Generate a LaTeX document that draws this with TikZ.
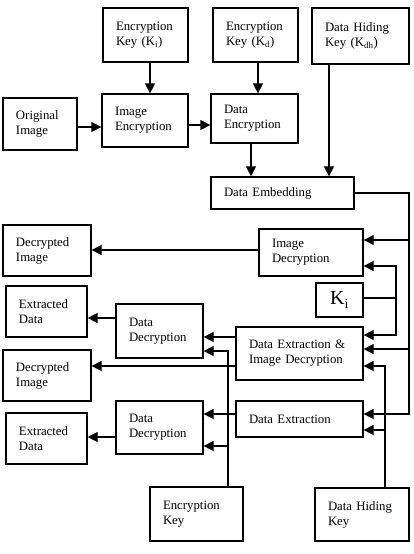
\documentclass[tikz,border=0pt]{standalone}
\usepackage{fontspec}
\setmainfont{Liberation Serif}
\usetikzlibrary{arrows.meta,positioning}
\tikzset{
  bx/.style={rectangle,draw=black,line width=1.2pt,align=left,font=\fontsize{12.8}{15}\selectfont,inner xsep=13pt,inner ysep=2pt},
  wire/.style={draw=black,line width=1.2pt},
  ctl/.style={draw=black,line width=1.2pt,-{Triangle[length=10pt,width=10pt]}},
}
\begin{document}
\begin{tikzpicture}[x=1pt,y=-1pt]
\useasboundingbox (0,0) rectangle (414,554);
% Embedding side: keys, encryption, embedding.
\node[bx,minimum width=85pt,minimum height=54pt,text width=59pt] (keyi) at (145.5,35) {Encryption\\Key (K\textsubscript{i})};
\node[bx,minimum width=85pt,minimum height=54pt,text width=59pt] (keyd) at (255.5,35) {Encryption\\Key (K\textsubscript{d})};
\node[bx,minimum width=97pt,minimum height=56pt,text width=71pt] (keydh) at (360.5,36) {Data Hiding\\Key (K\textsubscript{dh})};
\node[bx,minimum width=74pt,minimum height=52pt,text width=48pt] (orig) at (40,124) {Original\\Image};
\node[bx,minimum width=86pt,minimum height=53pt,text width=60pt] (imgenc) at (145,120.5) {Image\\Encryption};
\node[bx,minimum width=87pt,minimum height=49pt,text width=61pt] (dataenc) at (254.5,118.5) {Data\\Encryption};
\node[bx,minimum width=143pt,minimum height=32pt,text width=117pt] (embed) at (282.5,193) {Data Embedding};
% Receiver side.
\node[bx,minimum width=104pt,minimum height=47pt,text width=78pt] (imgdec) at (311,252.5) {Image\\Decryption};
\node[bx,minimum width=88pt,minimum height=51pt,text width=62pt] (decimga) at (47,250.5) {Decrypted\\Image};
\node[bx,align=center,inner xsep=2pt,minimum width=47pt,minimum height=34pt,font=\fontsize{20}{22}\selectfont] (kibox) at (339.5,300) {K\textsubscript{i}};
\node[bx,minimum width=81pt,minimum height=51pt,text width=55pt] (extra) at (46.5,311.5) {Extracted\\Data};
\node[bx,minimum width=87pt,minimum height=54pt,text width=61pt] (ddeca) at (159.5,331) {Data\\Decryption};
\node[bx,minimum width=127pt,minimum height=53pt,text width=101pt] (deid) at (299.5,353.5) {Data Extraction \&\\Image Decryption};
\node[bx,minimum width=88pt,minimum height=51pt,text width=62pt] (decimgb) at (47,375.5) {Decrypted\\Image};
\node[bx,minimum width=127pt,minimum height=36pt,text width=101pt] (dext) at (299.5,419) {Data Extraction};
\node[bx,minimum width=87pt,minimum height=53pt,text width=61pt] (ddecb) at (159.5,427.5) {Data\\Decryption};
\node[bx,minimum width=81pt,minimum height=51pt,text width=55pt] (extrb) at (46.5,438.5) {Extracted\\Data};
\node[bx,minimum width=93pt,minimum height=54pt,text width=67pt] (enckey) at (196.5,514) {Encryption\\Key};
\node[bx,minimum width=94pt,minimum height=53pt,text width=68pt] (dhkey) at (362,514.5) {Data Hiding\\Key};
% Encryption flow.
\draw[ctl] ([xshift=4.5pt]keyi.south) -- ([xshift=4.5pt]keyi.south |- imgenc.north);
\draw[ctl] ([xshift=2.5pt]keyd.south) -- ([xshift=2.5pt]keyd.south |- dataenc.north);
\draw[ctl] ([yshift=-3pt]orig.east) -- ([yshift=-3pt]orig.east -| imgenc.west);
\draw[ctl] ([yshift=-4.5pt]imgenc.east) -- ([yshift=-4.5pt]imgenc.east -| dataenc.west);
\draw[ctl] ([xshift=-3.5pt]dataenc.south) -- ([xshift=-3.5pt]dataenc.south |- embed.north);
\draw[ctl] ([xshift=-31.5pt]keydh.south) -- ([xshift=-31.5pt]keydh.south |- embed.north);
% Marked encrypted image fans out along the right edge.
\coordinate (rbus) at (409,194);
\draw[ctl] (embed.east) -| ([yshift=5pt]dext.east -| rbus) -- ([yshift=5pt]dext.east);
\draw[ctl] ([yshift=12.5pt]imgdec.east -| rbus) -- ([yshift=12.5pt]imgdec.east);
\draw[ctl] ([yshift=4.5pt]deid.east -| rbus) -- ([yshift=4.5pt]deid.east);
% Image key.
\coordinate (kbus) at (396,298);
\draw[wire] ([yshift=2pt]kibox.east) -- (kbus);
\draw[ctl] (kbus) |- ([yshift=-13.5pt]imgdec.east);
\draw[ctl] (kbus) |- ([yshift=18.5pt]deid.east);
% Data hiding key.
\coordinate (hbus) at ([xshift=23pt]dhkey.north);
\draw[ctl] (hbus) |- ([yshift=-12.5pt]deid.east);
\draw[ctl] ([yshift=-11pt]dext.east -| hbus) -- ([yshift=-11pt]dext.east);
% Encryption key.
\coordinate (ebus) at ([xshift=31.5pt]enckey.north);
\draw[ctl] (ebus) |- ([yshift=-20pt]ddeca.east);
\draw[ctl] ([yshift=-18.5pt]ddecb.east -| ebus) -- ([yshift=-18.5pt]ddecb.east);
% Outputs.
\draw[ctl] ([yshift=2.5pt]imgdec.west) -- ([yshift=2.5pt]imgdec.west -| decimga.east);
\draw[ctl] ([yshift=16.5pt]deid.west) -- ([yshift=16.5pt]deid.west -| ddeca.east);
\draw[ctl] ([yshift=-12.5pt]deid.west) -- ([yshift=-12.5pt]deid.west -| decimgb.east);
\draw[ctl] ([yshift=5pt]dext.west) -- ([yshift=5pt]dext.west -| ddecb.east);
\draw[ctl] ([yshift=13pt]ddeca.west) -- ([yshift=13pt]ddeca.west -| extra.east);
\draw[ctl] ([yshift=-9.5pt]ddecb.west) -- ([yshift=-9.5pt]ddecb.west -| extrb.east);
\end{tikzpicture}
\end{document}
